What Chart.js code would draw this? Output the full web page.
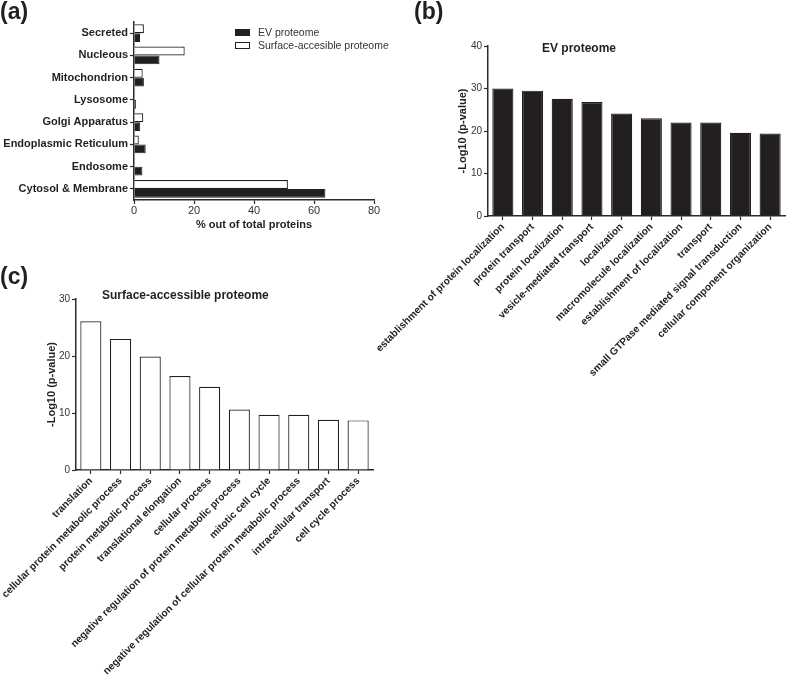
<!DOCTYPE html>
<html>
<head>
<meta charset="utf-8">
<script src="https://cdn.jsdelivr.net/npm/chart.js@4/dist/chart.umd.min.js"></script>
<style>
  body { margin: 0; background: #fff; width: 787px; height: 678px; position: relative; overflow: hidden;
         font-family: "Liberation Sans", Arial, sans-serif; color: #231f20; }
  canvas { position: absolute; }
  .txt { position: absolute; white-space: nowrap; }
  .letter { font-weight: bold; font-size: 23px; line-height: 24px; }
  .head { font-weight: bold; font-size: 12px; line-height: 14px; }
  .leg { font-size: 10.5px; line-height: 12px; color: #333; }
  .swatch { position: absolute; width: 13px; height: 5px; border: 1.2px solid #231f20; }
</style>
</head>
<body>
<canvas id="chartA" width="400" height="232" style="left:0;top:0"></canvas>
<canvas id="chartB" width="427" height="380" style="left:360px;top:0"></canvas>
<canvas id="chartC" width="400" height="408" style="left:0;top:270px"></canvas>

<div class="txt letter" style="left:0;top:-1px">(a)</div>
<div class="txt letter" style="left:414px;top:-1px">(b)</div>
<div class="txt letter" style="left:0;top:264px">(c)</div>

<div class="swatch" style="left:235px;top:29px;background:#231f20"></div>
<div class="txt leg" style="left:258px;top:26px">EV proteome</div>
<div class="swatch" style="left:235px;top:42px;background:#fff"></div>
<div class="txt leg" style="left:258px;top:39px">Surface-accesible proteome</div>

<div class="txt head" style="left:542px;top:41px">EV proteome</div>
<div class="txt head" style="left:102px;top:288px">Surface-accessible proteome</div>

<script>
// (a) subcellular localisation, % of proteins
const compartments = ['Secreted', 'Nucleous', 'Mitochondrion', 'Lysosome', 'Golgi Apparatus',
  'Endoplasmic Reticulum', 'Endosome', 'Cytosol & Membrane'];
const evPercent = [2.0, 8.5, 3.3, 0.7, 2.1, 3.9, 2.8, 63.8];
const surfacePercent = [3.3, 16.9, 2.9, 0.3, 3.1, 1.6, 0, 51.3];

// (b) EV proteome GO terms
const evTerms = ['establishment of protein localization', 'protein transport', 'protein localization',
  'vesicle-mediated transport', 'localization', 'macromolecule localization',
  'establishment of localization', 'transport', 'small GTPase mediated signal transduction',
  'cellular component organization'];
const evLogP = [30.0, 29.5, 27.6, 26.8, 24.1, 23.0, 22.0, 22.0, 19.6, 19.4];

// (c) surface-accessible proteome GO terms
const surfaceTerms = ['translation', 'cellular protein metabolic process', 'protein metabolic process',
  'translational elongation', 'cellular process', 'negative regulation of protein metabolic process',
  'mitotic cell cycle', 'negative regulation of cellular protein metabolic process',
  'intracellular transport', 'cell cycle process'];
const surfaceLogP = [26.1, 23.0, 19.9, 16.5, 14.6, 10.6, 9.7, 9.7, 8.8, 8.7];

const ink = '#231f20';
const axisInk = '#2b2b2b';

Chart.defaults.font.family = '"Liberation Sans", Arial, sans-serif';
Chart.defaults.color = '#333';

const grid = { drawOnChartArea: false, drawTicks: true, tickLength: 4, tickWidth: 1.2,
  tickColor: axisInk, offset: false };
const border = { color: axisInk, width: 1.5 };
const yTitle = { display: true, text: '-Log10 (p-value)', color: ink, padding: 0,
  font: { size: 11, weight: 'bold' } };

// pin an axis to a fixed size so the plot area sits where the figure has it
function pin(prop, size) {
  return function (scale) {
    scale[prop] = size;
    scale.paddingLeft = 0; scale.paddingRight = 0;
    scale.paddingTop = 0; scale.paddingBottom = 0;
  };
}

const common = {
  responsive: false,
  animation: false,
  devicePixelRatio: 1,
  plugins: { legend: { display: false }, tooltip: { enabled: false } }
};

new Chart(document.getElementById('chartA'), {
  type: 'bar',
  data: {
    labels: compartments,
    datasets: [
      { label: 'Surface-accesible proteome', data: surfacePercent, backgroundColor: '#fff',
        borderColor: ink, borderWidth: 1.2 },
      { label: 'EV proteome', data: evPercent, backgroundColor: ink, borderColor: ink, borderWidth: 1 }
    ]
  },
  options: {
    ...common,
    indexAxis: 'y',
    datasets: { bar: { categoryPercentage: 0.8, barPercentage: 1 } },
    layout: { padding: { top: 22, right: 26, left: 0, bottom: 0 } },
    scales: {
      x: {
        min: 0, max: 80,
        ticks: { stepSize: 20, padding: 0, font: { size: 11 } },
        grid, border,
        title: { display: true, text: '% out of total proteins', color: ink, padding: 0,
          font: { size: 11, weight: 'bold' } },
        afterFit: pin('height', 32)
      },
      y: {
        ticks: { color: ink, padding: 2, font: { size: 11, weight: 'bold' } },
        grid, border,
        afterFit: pin('width', 134)
      }
    }
  }
});

function termChart(id, terms, values, fill, yMax, pad, yWidth, xHeight) {
  return new Chart(document.getElementById(id), {
    type: 'bar',
    data: {
      labels: terms,
      datasets: [{ data: values, backgroundColor: fill, borderColor: ink, borderWidth: 1.2,
        categoryPercentage: 1, barPercentage: 0.71 }]
    },
    options: {
      ...common,
      layout: { padding: pad },
      scales: {
        x: {
          ticks: { color: ink, autoSkip: false, minRotation: 45, maxRotation: 45, padding: 1,
            font: { size: 10.2, weight: 'bold' } },
          grid, border,
          afterFit: pin('height', xHeight)
        },
        y: {
          min: 0, max: yMax,
          ticks: { stepSize: 10, padding: 2, font: { size: 10 } },
          grid, border,
          title: yTitle,
          afterFit: pin('width', yWidth)
        }
      }
    }
  });
}

termChart('chartB', evTerms, evLogP, ink, 40, { left: 96, top: 46, right: 2, bottom: 0 }, 32, 164);
termChart('chartC', surfaceTerms, surfaceLogP, '#fff', 30, { left: 45, top: 29, right: 27, bottom: 0 }, 31, 208);
</script>
</body>
</html>
